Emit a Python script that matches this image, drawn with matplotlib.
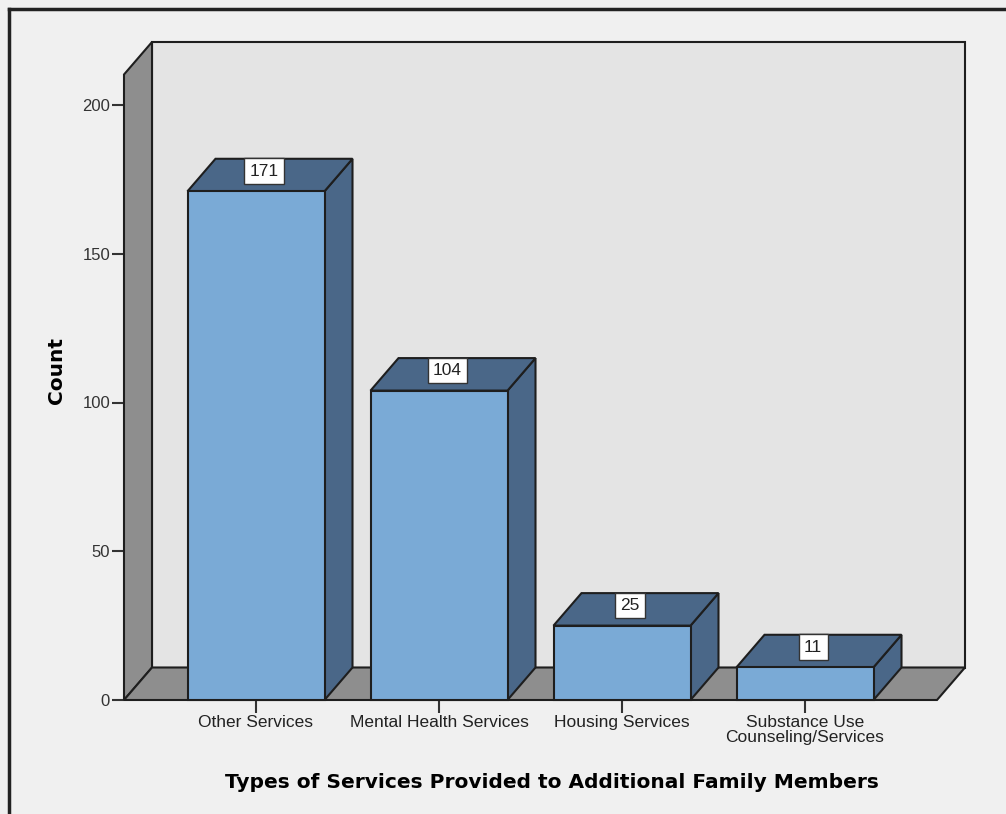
import matplotlib
matplotlib.use("Agg")
import matplotlib.pyplot as plt
from matplotlib.patches import Polygon, Rectangle

categories = ["Other Services", "Mental Health Services", "Housing Services",
              "Substance Use\nCounseling/Services"]
counts = [171, 104, 25, 11]
yticks = [0, 50, 100, 150, 200]

W, H = 1006, 814
fig = plt.figure(figsize=(W / 100, H / 100), dpi=100)
fig.patch.set_facecolor("#f0f0f0")

# pixel geometry of the plotting frame
px_left, px_right, px_top, px_bottom = 124, 965, 42, 700
cat_px0, cat_step = 256, 183
px_per_unit = 2.975

ax = fig.add_axes([px_left / W, (H - px_bottom) / H,
                   (px_right - px_left) / W, (px_bottom - px_top) / H])
ax.set_xlim((px_left - cat_px0) / cat_step, (px_right - cat_px0) / cat_step)
ax.set_ylim(0, (px_bottom - px_top) / px_per_unit)
ax.patch.set_alpha(0)
for s in ax.spines.values():
    s.set_visible(False)

dx = 28 / cat_step          # depth offset in category units
dy = 32.5 / px_per_unit     # depth offset in count units
x0 = ax.get_xlim()[0]
x1 = ax.get_xlim()[1]
ytop_front = ax.get_ylim()[1] - dy

edge = "#1e1e1e"
wall_gray = "#8e8e8e"
back_col = "#e4e4e4"
front_col = "#7aaad6"
dark_col = "#4a6788"

# back wall
ax.add_patch(Rectangle((x0 + dx, dy), x1 - x0 - dx, ytop_front, facecolor=back_col,
                       edgecolor=edge, lw=1.5, zorder=1, clip_on=False))
# left side wall
ax.add_patch(Polygon([(x0, 0), (x0, ytop_front), (x0 + dx, ytop_front + dy), (x0 + dx, dy)],
                     closed=True, facecolor=wall_gray, edgecolor=edge, lw=1.5, zorder=2,
                     clip_on=False))
# floor
ax.add_patch(Polygon([(x0, 0), (x1 - dx, 0), (x1, dy), (x0 + dx, dy)],
                     closed=True, facecolor=wall_gray, edgecolor=edge, lw=1.5, zorder=2,
                     clip_on=False))

half = 137 / cat_step / 2
for i, v in enumerate(counts):
    xl, xr = i - half, i + half
    # side face
    ax.add_patch(Polygon([(xr, 0), (xr, v), (xr + dx, v + dy), (xr + dx, dy)], closed=True,
                         facecolor=dark_col, edgecolor=edge, lw=1.5, zorder=3, clip_on=False))
    # top face
    ax.add_patch(Polygon([(xl, v), (xr, v), (xr + dx, v + dy), (xl + dx, v + dy)], closed=True,
                         facecolor=dark_col, edgecolor=edge, lw=1.5, zorder=3, clip_on=False))
    # front face
    ax.add_patch(Rectangle((xl, 0), xr - xl, v, facecolor=front_col, edgecolor=edge,
                           lw=1.5, zorder=4, clip_on=False))
    ax.text(i + 0.045, v + dy * 0.62, str(v), ha="center", va="center", fontsize=12.5,
            family="Liberation Sans", color="#222222", zorder=6,
            bbox=dict(boxstyle="square,pad=0.3", facecolor="white", edgecolor="#333333", lw=1))

# ticks
ax.set_yticks(yticks)
ax.set_yticklabels([str(t) for t in yticks], fontsize=12, family="Liberation Sans",
                   color="#333333")
ax.set_xticks(range(len(categories)))
ax.set_xticklabels(categories, fontsize=12.5, family="Liberation Sans", color="#222222",
                   linespacing=1.0)
ax.tick_params(axis="y", length=9, width=1.5, color="#333333", pad=1)
ax.tick_params(axis="x", length=9, width=1.5, color="#333333", pad=2)

ax.set_ylabel("Count", fontsize=14.5, fontweight="bold", family="DejaVu Sans", labelpad=12)
ax.set_xlabel("Types of Services Provided to Additional Family Members", fontsize=14.5,
              fontweight="bold", family="DejaVu Sans", labelpad=20)
ax.xaxis.label.set_x(0.509)

# outer frame (top and left visible)
fig.add_artist(plt.Line2D([9 / W, 9 / W], [0, 1 - 9 / H], color="#222222", lw=2.5,
                          transform=fig.transFigure))
fig.add_artist(plt.Line2D([9 / W, 1], [1 - 9 / H, 1 - 9 / H], color="#222222", lw=2.5,
                          transform=fig.transFigure))

fig.savefig("out.png", dpi=100, facecolor=fig.get_facecolor())
